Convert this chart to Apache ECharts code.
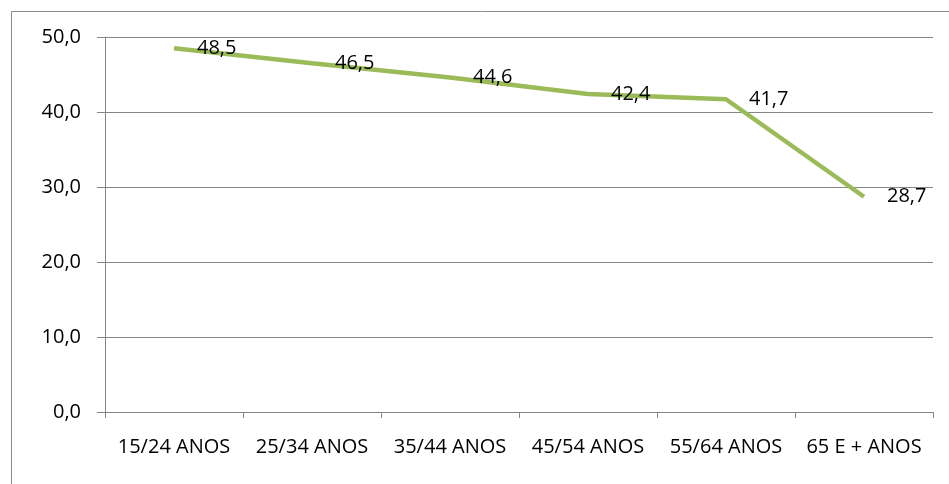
<!DOCTYPE html>
<html><head><meta charset="utf-8">
<script src="https://cdn.jsdelivr.net/npm/echarts@6/dist/echarts.min.js"></script>
<style>html,body{margin:0;padding:0;background:#fff}#c{width:949px;height:484px}</style>
</head><body><div id="c"></div>
<script>
const categories = ['15/24 ANOS','25/34 ANOS','35/44 ANOS','45/54 ANOS','55/64 ANOS','65 E + ANOS'];
const values = [48.5, 46.5, 44.6, 42.4, 41.7, 28.7];
const yTicks = {min: 0, max: 50, interval: 10};

const fmt = v => Number(v).toFixed(1).replace('.', ',');
const font = 'Open Sans';
const chart = echarts.init(document.getElementById('c'));
chart.setOption({
  animation: false,
  backgroundColor: '#fff',
  graphic: [{type: 'rect', left: 9, top: 9, shape: {width: 980, height: 520}, style: {fill: 'none', stroke: '#8c8c8c', lineWidth: 1}, silent: true}],
  grid: {left: 105, right: 16, top: 37, bottom: 72, containLabel: false},
  xAxis: {
    type: 'category', data: categories, boundaryGap: true,
    axisLine: {lineStyle: {color: '#868686', width: 1}},
    axisTick: {show: true, interval: 0, length: 6, lineStyle: {color: '#868686'}},
    axisLabel: {color: '#000', fontFamily: font, fontSize: 20, margin: 25, interval: 0, hideOverlap: false}
  },
  yAxis: {
    type: 'value', min: yTicks.min, max: yTicks.max, interval: yTicks.interval,
    axisLine: {show: true, lineStyle: {color: '#868686', width: 1}},
    axisTick: {show: true, length: 8, lineStyle: {color: '#868686'}},
    splitLine: {lineStyle: {color: '#868686', width: 1}},
    axisLabel: {color: '#000', fontFamily: font, fontSize: 20, margin: 24, formatter: fmt}
  },
  series: [{
    type: 'line', data: values,
    symbol: 'circle', symbolSize: 2, itemStyle: {color: 'rgba(0,0,0,0)', borderWidth: 0},
    lineStyle: {color: '#9BBB59', width: 4.5},
    label: {show: true, position: 'right', distance: 22, color: '#000', fontFamily: font, fontSize: 20,
      formatter: p => fmt(p.value)}
  }]
});
</script></body></html>
